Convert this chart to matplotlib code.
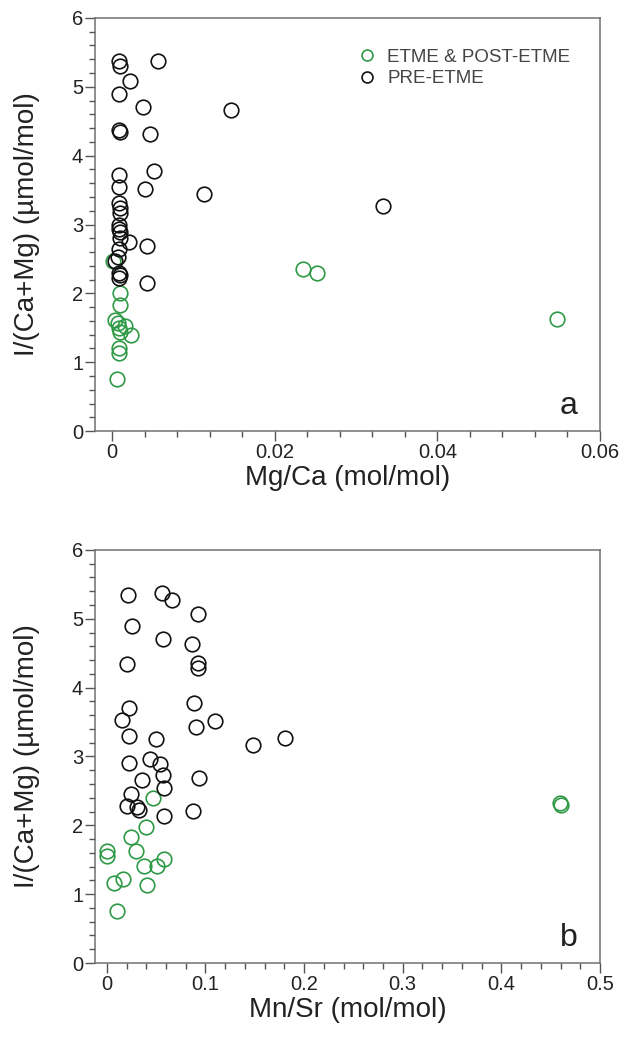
import numpy as np
import matplotlib.pyplot as plt
from matplotlib.ticker import MultipleLocator

plt.rcParams['font.family'] = ['Liberation Sans', 'DejaVu Sans']

green = '#2f9a45'

# panel a: Mg/Ca vs I/(Ca+Mg)
mgca_post = [0.0010, 0.0010, 0.0004, 0.0007, 0.0016, 0.0010, 0.0023, 0.0008, 0.0008,
             0.0006, 0.0001, 0.0008, 0.0235, 0.0252, 0.0547]
i_post_a = [2.00, 1.83, 1.61, 1.57, 1.52, 1.44, 1.39, 1.20, 1.14,
            0.75, 2.47, 1.50, 2.35, 2.30, 1.63]

mgca_pre = [0.0009, 0.0010, 0.0056, 0.0022, 0.0009, 0.0038, 0.0146, 0.0009, 0.0010, 0.0047,
            0.0052, 0.0009, 0.0009, 0.0040, 0.0113, 0.0009, 0.0010, 0.0010, 0.0009, 0.0009,
            0.0010, 0.0021, 0.0043, 0.0008, 0.0007, 0.0003, 0.0009, 0.0010, 0.0009, 0.0043,
            0.0333, 0.0010]
i_pre_a = [5.38, 5.30, 5.38, 5.08, 4.89, 4.71, 4.66, 4.37, 4.35, 4.31,
           3.78, 3.72, 3.55, 3.52, 3.45, 3.31, 3.24, 3.17, 3.00, 2.94,
           2.89, 2.75, 2.69, 2.65, 2.53, 2.47, 2.29, 2.26, 2.23, 2.15,
           3.27, 2.80]

# panel b: Mn/Sr vs I/(Ca+Mg)
mnsr_post = [0.0003, 0.0000, 0.0074, 0.0166, 0.0098, 0.025, 0.030, 0.0396, 0.0463,
             0.0378, 0.0504, 0.058, 0.041, 0.459, 0.460]
i_post_b = [1.63, 1.55, 1.16, 1.22, 0.75, 1.83, 1.62, 1.98, 2.39,
            1.41, 1.41, 1.51, 1.13, 2.33, 2.29]

mnsr_pre = [0.021, 0.056, 0.066, 0.092, 0.026, 0.057, 0.0865, 0.020, 0.092, 0.0926,
            0.0226, 0.0886, 0.0149, 0.110, 0.090, 0.022, 0.0497, 0.148, 0.0226, 0.0436,
            0.0537, 0.057, 0.036, 0.0936, 0.025, 0.058, 0.020, 0.031, 0.033, 0.058,
            0.087, 0.1805]
i_pre_b = [5.34, 5.37, 5.27, 5.07, 4.89, 4.70, 4.64, 4.34, 4.36, 4.28,
           3.71, 3.77, 3.53, 3.51, 3.43, 3.30, 3.26, 3.17, 2.90, 2.97,
           2.89, 2.73, 2.66, 2.68, 2.46, 2.54, 2.28, 2.26, 2.22, 2.14,
           2.21, 3.27]

fig = plt.figure(figsize=(6.25, 10.54), dpi=100)
ax1 = fig.add_axes([0.152, 0.591, 0.808, 0.392])
ax2 = fig.add_axes([0.152, 0.0863, 0.808, 0.392])

ms = 10.5
mew = 1.2

def style(ax, xlim, xmaj, xmin, xlabel, letter):
    ax.set_xlim(*xlim)
    ax.set_ylim(0, 6)
    ax.xaxis.set_major_locator(MultipleLocator(xmaj))
    ax.xaxis.set_minor_locator(MultipleLocator(xmin))
    ax.yaxis.set_major_locator(MultipleLocator(1))
    ax.yaxis.set_minor_locator(MultipleLocator(0.2))
    ax.tick_params(which='both', direction='out', top=False, right=False,
                   colors='#555555', labelsize=14.5, width=1)
    ax.tick_params(which='major', length=7.5, labelcolor='#222222', pad=1)
    ax.tick_params(which='minor', length=4.5)
    for s in ax.spines.values():
        s.set_color('#707070')
        s.set_linewidth(1.1)
    ax.set_xlabel(xlabel, fontsize=20, color='#222222', labelpad=2)
    ax.set_ylabel('I/(Ca+Mg) (µmol/mol)', fontsize=20, color='#222222', labelpad=23)
    ax.text(0.955, 0.06, letter, transform=ax.transAxes, ha='right', va='center',
            fontsize=23, color='#222222')

ax1.plot(mgca_post, i_post_a, 'o', mfc='none', mec=green, ms=ms, mew=mew,
         label='ETME & POST-ETME')
ax1.plot(mgca_pre, i_pre_a, 'o', mfc='none', mec='#111111', ms=ms, mew=mew,
         label='PRE-ETME')
style(ax1, (-0.0021, 0.06), 0.02, 0.004, 'Mg/Ca (mol/mol)', 'a')
ax1.set_xticks([0, 0.02, 0.04, 0.06])
ax1.set_xticklabels(['0', '0.02', '0.04', '0.06'])
ax1.legend(loc='upper left', bbox_to_anchor=(0.486, 0.967), frameon=False,
           fontsize=13.5, handlelength=1.0, handletextpad=0.6, labelspacing=0.25,
           markerscale=0.75, labelcolor='#444444')

ax2.plot(mnsr_post, i_post_b, 'o', mfc='none', mec=green, ms=ms, mew=mew)
ax2.plot(mnsr_pre, i_pre_b, 'o', mfc='none', mec='#111111', ms=ms, mew=mew)
style(ax2, (-0.012, 0.5), 0.1, 0.02, 'Mn/Sr (mol/mol)', 'b')
ax2.set_xticks([0, 0.1, 0.2, 0.3, 0.4, 0.5])
ax2.set_xticklabels(['0', '0.1', '0.2', '0.3', '0.4', '0.5'])

plt.savefig('out.png', dpi=100)
